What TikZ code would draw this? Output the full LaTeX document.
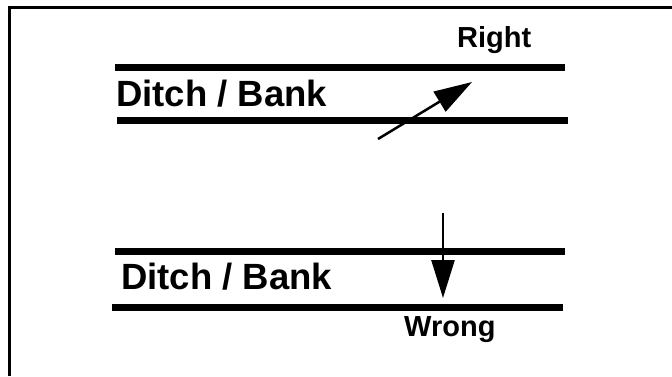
\documentclass[tikz,border=0pt]{standalone}
\usepackage{fontspec}
\setmainfont{Liberation Sans}
\usetikzlibrary{arrows.meta}

\begin{document}
\begin{tikzpicture}[x=1pt, y=-1pt, >={Triangle[length=38pt, width=23pt]},
    bank/.style={line width=7pt},
    dir/.style={line width=2.5pt, ->},
    banklabel/.style={anchor=base west, inner sep=0pt, font=\fontsize{36.5}{42}\selectfont\bfseries},
    verdict/.style={anchor=base west, inner sep=0pt, font=\fontsize{29}{34}\selectfont\bfseries}]

    \useasboundingbox (0,0) rectangle (672,376);

    % Rahmen (nur oben und links)
    \draw[line width=3pt] (9,376) -- (9,7.5) -- (672,7.5);

    %% oben: richtig
    \coordinate (b1w) at (115,67);  \coordinate (b1e) at (565,67);
    \coordinate (b2w) at (117,120); \coordinate (b2e) at (568,120);
    \draw[bank] (b1w) -- (b1e);
    \draw[bank] (b2w) -- (b2e);
    \node[banklabel] (ditchtop) at (116,106) {Ditch / Bank};
    \node[verdict] (right) at (457,47) {Right};
    \coordinate (rtail) at (378,139);
    \coordinate (rtip) at (472,82);
    \draw[dir] (rtail) -- (rtip);

    %% unten: falsch
    \coordinate (b3w) at (115,251); \coordinate (b3e) at (565,251);
    \coordinate (b4w) at (112,307); \coordinate (b4e) at (563,307);
    \draw[bank] (b3w) -- (b3e);
    \draw[bank] (b4w) -- (b4e);
    \node[banklabel] (ditchbot) at (121,289) {Ditch / Bank};
    \node[verdict] (wrong) at (404,336) {Wrong};
    \coordinate (wtail) at (443,213);
    \coordinate (wtip) at (443,298);
    \draw[dir] (wtail) -- (wtip);

\end{tikzpicture}
\end{document}
